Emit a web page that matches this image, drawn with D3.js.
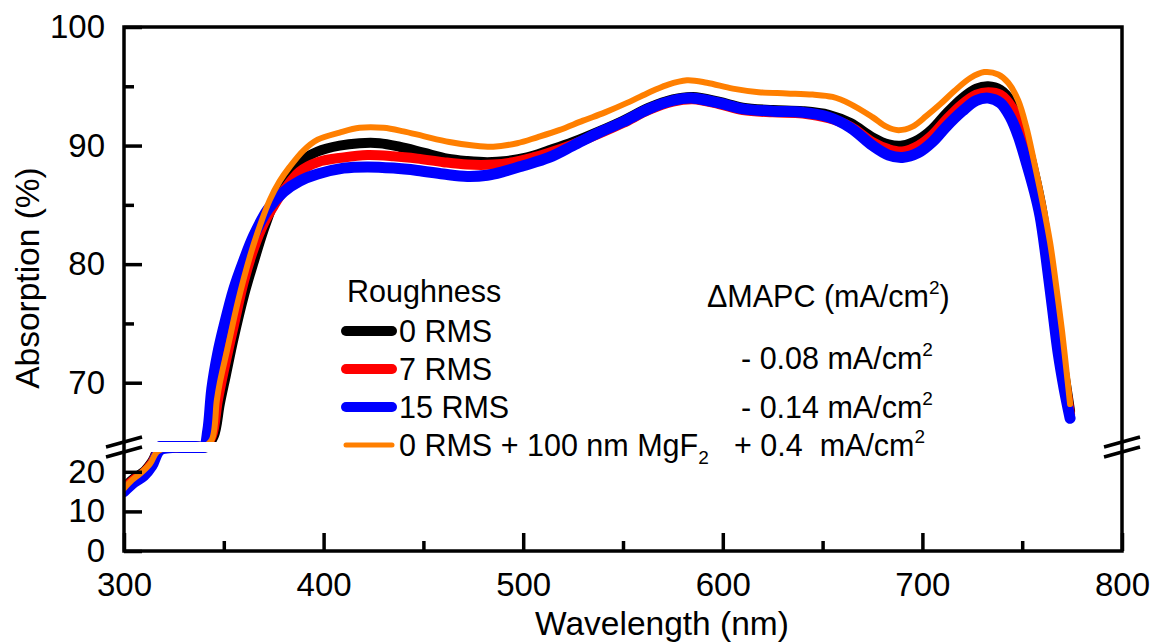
<!DOCTYPE html>
<html>
<head>
<meta charset="utf-8">
<script src="https://cdn.jsdelivr.net/npm/d3@7"></script>
<style>
	body { margin: 0; background: #fff; }
	text { font-family: "Liberation Sans", Arial, sans-serif; fill: #000; }
</style>
</head>
<body>
<div id="chart"></div>
<script>
// [wavelength nm, absorption %]
const rms0 = [[300,16.0],[305,18.3],[310,20.0],[314,22.5],[318,26],[324,34],[330,43],[336,53],[341,61],[345,65.5],[348,68.2],[351,70.6],[355,73.8],[360,77.3],[365,80.2],[370,82.9],[375,85.2],[380,87.0],[388,88.6],[397,89.5],[408,90.0],[418,90.2],[428,90.2],[438,89.9],[450,89.4],[462,88.9],[472,88.7],[482,88.6],[492,88.7],[502,89.0],[513,89.6],[525,90.3],[538,91.2],[550,92.1],[563,93.2],[575,93.9],[585,94.1],[598,93.7],[610,93.2],[625,93.0],[640,92.9],[653,92.6],[664,91.9],[675,90.7],[683,90.1],[690,90.0],[698,90.5],[705,91.4],[712,92.7],[720,94.0],[727,94.8],[733,95.0],[739,94.7],[745,93.6],[749,92.0],[753,89.8],[757,87.0],[760,84.5],[763,81.0],[766,77.0],[769,73.0],[772,69.8],[774,67.6]];

const rms7 = [[300,15.8],[305,18.0],[310,19.8],[314,22.2],[318,25.8],[324,34],[330,43],[336,53],[340,61],[344,65.5],[347,68.5],[350,71.0],[355,74.8],[360,78.5],[365,81.3],[370,83.4],[375,84.9],[380,86.2],[388,87.8],[397,88.6],[410,89.0],[422,89.2],[435,89.1],[447,88.9],[460,88.6],[472,88.4],[485,88.4],[495,88.6],[505,89.0],[513,89.4],[525,90.1],[538,91.0],[550,91.9],[563,93.0],[575,93.7],[585,93.9],[598,93.5],[610,93.0],[625,92.8],[640,92.7],[653,92.3],[664,91.6],[675,90.3],[683,89.7],[690,89.5],[698,90.0],[705,90.9],[712,92.2],[720,93.5],[727,94.3],[733,94.5],[739,94.3],[745,93.2],[749,91.6],[753,89.4],[757,86.6],[760,84.0],[763,80.5],[766,76.5],[769,72.6],[772,69.5],[774,67.3]];

const rms15 = [[300,15.0],[305,17.3],[310,19.0],[314,21.5],[318,25.5],[324,33],[330,42],[336,52],[340,60],[342,66],[344,69.5],[347,72.5],[350,74.7],[355,77.9],[360,80.3],[365,82.4],[372,84.6],[380,86.1],[388,87.0],[397,87.6],[410,88.1],[422,88.2],[435,88.1],[447,87.9],[460,87.6],[472,87.4],[482,87.5],[490,87.8],[500,88.3],[513,89.0],[525,90.0],[538,91.1],[550,92.0],[563,93.1],[575,93.8],[585,94.0],[598,93.6],[610,93.1],[625,92.9],[640,92.8],[653,92.4],[664,91.5],[675,90.0],[683,89.2],[690,89.0],[698,89.4],[705,90.3],[712,91.6],[720,92.9],[727,93.8],[733,94.0],[739,93.6],[744,92.4],[748,90.8],[752,88.6],[756,86.2],[759,84.0],[762,80.5],[765,76.5],[768,72.5],[771,69.5],[774,67.0]];

const rms0MgF2 = [[300,15.8],[304,17.9],[308,19.5],[313,22.0],[316.5,25],[322,32],[328,41],[334,51],[340,60],[344,65.2],[346.5,68.5],[348,70.0],[352,73.0],[357,76.8],[363,80.6],[368,83.2],[373,85.4],[378,87.0],[383,88.2],[390,89.6],[397,90.5],[408,91.1],[418,91.5],[430,91.5],[440,91.2],[450,90.8],[463,90.3],[475,90.0],[485,89.9],[497,90.2],[507,90.7],[518,91.3],[530,92.1],[541,92.8],[552,93.6],[562,94.4],[572,95.1],[582,95.5],[592,95.3],[605,94.8],[618,94.5],[632,94.4],[645,94.3],[655,94.1],[664,93.5],[675,92.4],[682,91.6],[688,91.3],[695,91.6],[702,92.5],[709,93.5],[716,94.6],[724,95.7],[731,96.2],[738,96.0],[743,95.3],[748,93.8],[752,91.6],[756,88.6],[760,85.4],[764,81.8],[767,78.2],[770,74.3],[772,71.3],[774,68.2]];

const xMajorTicks = [300, 400, 500, 600, 700, 800];
const xMinorTicks = [350, 450, 550, 650, 750];
const yUpperTicks = [70, 80, 90, 100];
const yUpperMinor = [75, 85, 95];
const yLowerTicks = [0, 10, 20];
const mapcLabels = ["", "- 0.08 mA/cm", "- 0.14 mA/cm", "+ 0.4  mA/cm"];

const series = [
	{ name: "0 RMS", values: rms0, color: "#000000", width: 10 },
	{ name: "7 RMS", values: rms7, color: "#ff0000", width: 10 },
	{ name: "15 RMS", values: rms15, color: "#0000ff", width: 11 },
	{ name: "0 RMS + 100 nm MgF", values: rms0MgF2, color: "#ff7f00", width: 6, sub: "2" }
];

const width = 1159, height = 643;
const plotLeft = 124, plotRight = 1122, plotTop = 27, plotBottom = 551;

const svg = d3.select("#chart").append("svg")
	.attr("width", width)
	.attr("height", height);

const x = d3.scaleLinear().domain([300, 800]).range([plotLeft, plotRight]);
const yTop = d3.scaleLinear().domain([65, 100]).range([442, plotTop]);
const yBot = d3.scaleLinear().domain([0, 25]).range([plotBottom, 452]);

const defs = svg.append("defs");
defs.append("clipPath").attr("id", "clipTop").append("rect")
	.attr("x", plotLeft).attr("y", plotTop).attr("width", plotRight - plotLeft).attr("height", yTop(65) - plotTop);
defs.append("clipPath").attr("id", "clipBot").append("rect")
	.attr("x", plotLeft).attr("y", yBot(25)).attr("width", plotRight - plotLeft).attr("height", plotBottom - yBot(25));

// values outside a panel are pinned just past its edge, so only a sliver shows
const lineTop = d3.line()
	.curve(d3.curveCatmullRom)
	.x(d => x(d[0]))
	.y(d => Math.min(yTop(d[1]), yTop(65) + 4.5));

const lineBot = d3.line()
	.curve(d3.curveCatmullRom)
	.x(d => x(d[0]))
	.y(d => Math.max(yBot(d[1]), yBot(25) - 4.5));

const gTop = svg.append("g").attr("clip-path", "url(#clipTop)");
const gBot = svg.append("g").attr("clip-path", "url(#clipBot)");

gTop.selectAll("path")
	.data(series)
	.enter()
	.append("path")
	.attr("fill", "none")
	.attr("stroke", d => d.color)
	.attr("stroke-width", d => d.width)
	.attr("stroke-linejoin", "round")
	.attr("stroke-linecap", "round")
	.attr("d", d => lineTop(d.values.filter(p => p[1] >= 25)));

gBot.selectAll("path")
	.data(series)
	.enter()
	.append("path")
	.attr("fill", "none")
	.attr("stroke", d => d.color)
	.attr("stroke-width", d => d.width)
	.attr("stroke-linejoin", "round")
	.attr("stroke-linecap", "round")
	.attr("d", d => lineBot(d.values.filter(p => p[1] <= 65)));

// axes
function styleAxis(g, fontSize) {
	g.select(".domain").remove();
	g.selectAll(".tick line").attr("stroke", "#000").attr("stroke-width", 3.5);
	g.selectAll(".tick text").attr("font-size", fontSize).attr("font-family", "Liberation Sans, Arial, sans-serif").attr("fill", "#000");
}

svg.append("g")
	.attr("transform", `translate(0,${plotBottom})`)
	.call(d3.axisBottom(x).tickValues(xMajorTicks).tickSize(-18).tickSizeOuter(0).tickPadding(22).tickFormat(d3.format("d")))
	.call(g => styleAxis(g, 33));

svg.append("g")
	.attr("transform", `translate(0,${plotBottom})`)
	.call(d3.axisBottom(x).tickValues(xMinorTicks).tickSize(-10).tickSizeOuter(0).tickFormat(""))
	.call(g => styleAxis(g, 33));

svg.append("g")
	.attr("transform", `translate(${plotLeft},0)`)
	.call(d3.axisLeft(yTop).tickValues(yUpperTicks).tickSize(-18).tickSizeOuter(0).tickPadding(19))
	.call(g => styleAxis(g, 33));

svg.append("g")
	.attr("transform", `translate(${plotLeft},0)`)
	.call(d3.axisLeft(yTop).tickValues(yUpperMinor).tickSize(-10).tickSizeOuter(0).tickFormat(""))
	.call(g => styleAxis(g, 33));

svg.append("g")
	.attr("transform", `translate(${plotLeft},0)`)
	.call(d3.axisLeft(yBot).tickValues(yLowerTicks).tickSize(-18).tickSizeOuter(0).tickPadding(19))
	.call(g => styleAxis(g, 33));

// frame
svg.append("rect")
	.attr("x", plotLeft).attr("y", plotTop)
	.attr("width", plotRight - plotLeft).attr("height", plotBottom - plotTop)
	.attr("fill", "none")
	.attr("stroke", "#000")
	.attr("stroke-width", 3.5);

// break marks
const breakEdges = [yTop(65), yBot(25)];
[plotLeft, plotRight].forEach(ax => {
	breakEdges.forEach(ey => {
		svg.append("line")
			.attr("x1", ax - 18).attr("y1", ey + 5)
			.attr("x2", ax + 18).attr("y2", ey - 5)
			.attr("stroke", "#000")
			.attr("stroke-width", 3.5);
	});
});

// axis titles
svg.append("text")
	.attr("x", 662).attr("y", 635)
	.attr("text-anchor", "middle")
	.attr("font-size", 33.5)
	.text("Wavelength (nm)");

svg.append("text")
	.attr("transform", "translate(39,278) rotate(-90)")
	.attr("text-anchor", "middle")
	.attr("font-size", 33.5)
	.text("Absorption (%)");

// legend
const legendFont = 30.5;
const legend = svg.append("g");
legend.append("text")
	.attr("x", 347).attr("y", 302)
	.attr("font-size", legendFont)
	.text("Roughness");

const rowY = [342, 380, 418, 456];
series.forEach((s, i) => {
	legend.append("line")
		.attr("x1", 346).attr("x2", 392)
		.attr("y1", rowY[i] - 11).attr("y2", rowY[i] - 11)
		.attr("stroke", s.color)
		.attr("stroke-width", s.width === 6 ? 5 : 10)
		.attr("stroke-linecap", "round");
	const t = legend.append("text")
		.attr("x", 399).attr("y", rowY[i])
		.attr("font-size", legendFont)
		.text(s.name);
	if (s.sub) {
		t.append("tspan").attr("font-size", 19).attr("dy", 8).text(s.sub);
	}
});

const head = legend.append("text")
	.attr("x", 707).attr("y", 307)
	.attr("font-size", legendFont)
	.text("\u0394MAPC (mA/cm");
head.append("tspan").attr("font-size", 19).attr("dy", -13).text("2");
head.append("tspan").attr("dy", 13).text(")");

const mapcX = [0, 741, 741, 734];
const mapcY = [0, 369, 418, 456];
mapcLabels.forEach((lab, i) => {
	if (!lab) return;
	const t = legend.append("text")
		.attr("x", mapcX[i]).attr("y", mapcY[i])
		.attr("font-size", legendFont)
		.style("white-space", "pre")
		.text(lab);
	t.append("tspan").attr("font-size", 19).attr("dy", -13).text("2");
});
</script>
</body>
</html>
